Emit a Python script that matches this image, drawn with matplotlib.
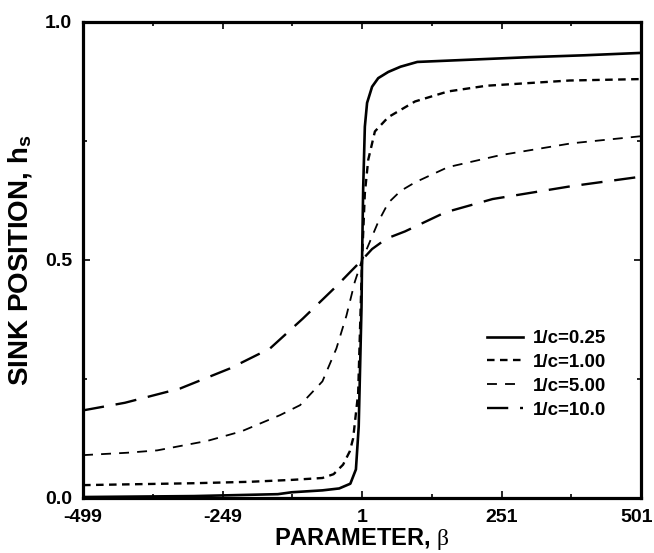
import numpy as np
import matplotlib
matplotlib.use("Agg")
import matplotlib.pyplot as plt
from matplotlib.transforms import ScaledTranslation

plt.rcParams['font.family'] = ['Liberation Sans', 'DejaVu Sans']
plt.rcParams['font.weight'] = 'bold'
plt.rcParams['mathtext.fontset'] = 'custom'
plt.rcParams['mathtext.rm'] = 'Liberation Serif:weight=normal'
plt.rcParams['mathtext.it'] = 'Liberation Serif:weight=normal'
plt.rcParams['mathtext.bf'] = 'Liberation Sans:bold'

# sink position h_s vs parameter beta
beta_025 = [-499, -300, -150, -125, -70, -40, -20, -10, -5, 0, 1, 3, 6, 10, 19, 30, 48, 70, 100, 200, 300, 400, 501]
hs_025 = [0.002, 0.004, 0.008, 0.012, 0.016, 0.02, 0.03, 0.06, 0.15, 0.4, 0.5, 0.65, 0.78, 0.83, 0.864, 0.882,
          0.895, 0.906, 0.916, 0.921, 0.926, 0.93, 0.935]

beta_100 = [-499, -400, -300, -200, -125, -70, -50, -33, -21, -15, -6, 1, 6, 12, 24, 48, 96, 155, 224, 373, 501]
hs_100 = [0.027, 0.029, 0.031, 0.034, 0.038, 0.042, 0.05, 0.07, 0.098, 0.125, 0.22, 0.5, 0.64, 0.71, 0.77,
          0.80, 0.833, 0.854, 0.866, 0.877, 0.88]

beta_500 = [-499, -420, -366, -276, -215, -146, -110, -70, -45, -27, -12, 1, 12, 30, 48, 70, 96, 155, 248, 376, 501]
hs_500 = [0.09, 0.095, 0.10, 0.12, 0.14, 0.174, 0.195, 0.245, 0.314, 0.383, 0.454, 0.5, 0.53, 0.58, 0.62,
          0.645, 0.663, 0.695, 0.72, 0.745, 0.76]

beta_1000 = [-499, -424, -325, -236, -164, -105, -44, -20, 1, 19, 45, 78, 150, 235, 376, 501]
hs_1000 = [0.184, 0.2, 0.23, 0.272, 0.314, 0.377, 0.446, 0.475, 0.5, 0.523, 0.545, 0.56, 0.60, 0.628, 0.655, 0.675]

xticks = [-499, -249, 1, 251, 501]
xlabels = ['-499', '-249', '1', '251', '501']
yticks = [0.0, 0.5, 1.0]
ylabels = ['0.0', '0.5', '1.0']

fig = plt.figure(figsize=(6.54, 5.53), dpi=100)
ax = fig.add_axes([0.127, 0.0995, 0.8532, 0.8608])

ax.plot(beta_025, hs_025, color='black', lw=1.9, label='1/c=0.25')
ax.plot(beta_100, hs_100, color='black', lw=1.7, dashes=(3.2, 2.3), label='1/c=1.00')
ax.plot(beta_500, hs_500, color='black', lw=1.3, dashes=(5.5, 4.5), label='1/c=5.00')
ax.plot(beta_1000, hs_1000, color='black', lw=1.7, dashes=(9, 5), label='1/c=10.0')

ax.set_xlim(-499, 501)
ax.set_ylim(0, 1)
ax.set_xticks(xticks)
ax.set_xticklabels(xlabels)
ax.set_yticks(yticks)
ax.set_yticklabels(ylabels)
ax.set_xticks([-374, -124, 126, 376], minor=True)
ax.set_yticks([0.25, 0.75], minor=True)
ax.tick_params(which='both', direction='in', top=True, right=True, labelsize=14, width=1.2, pad=8)
ax.tick_params(which='major', length=5)
ax.tick_params(which='minor', length=3)
for s in ax.spines.values():
    s.set_linewidth(2.3)

# keep the last x label inside the figure
last = ax.get_xticklabels()[-1]
last.set_transform(last.get_transform() + ScaledTranslation(-4 / 100, 0, fig.dpi_scale_trans))

ax.set_xlabel(r'PARAMETER, $\beta$', fontsize=17, fontweight='bold', labelpad=0)
ax.set_ylabel(r'SINK POSITION, h$_\mathbf{s}$', fontsize=20, fontweight='bold', labelpad=8)

ax.legend(loc='upper left', bbox_to_anchor=(487 / 654, (553 - 330) / 553), bbox_transform=fig.transFigure,
          frameon=False, fontsize=13.5, borderpad=0, borderaxespad=0,
          handlelength=1.9, handletextpad=0.55, labelspacing=0.36)

fig.savefig('out.png', dpi=100)
